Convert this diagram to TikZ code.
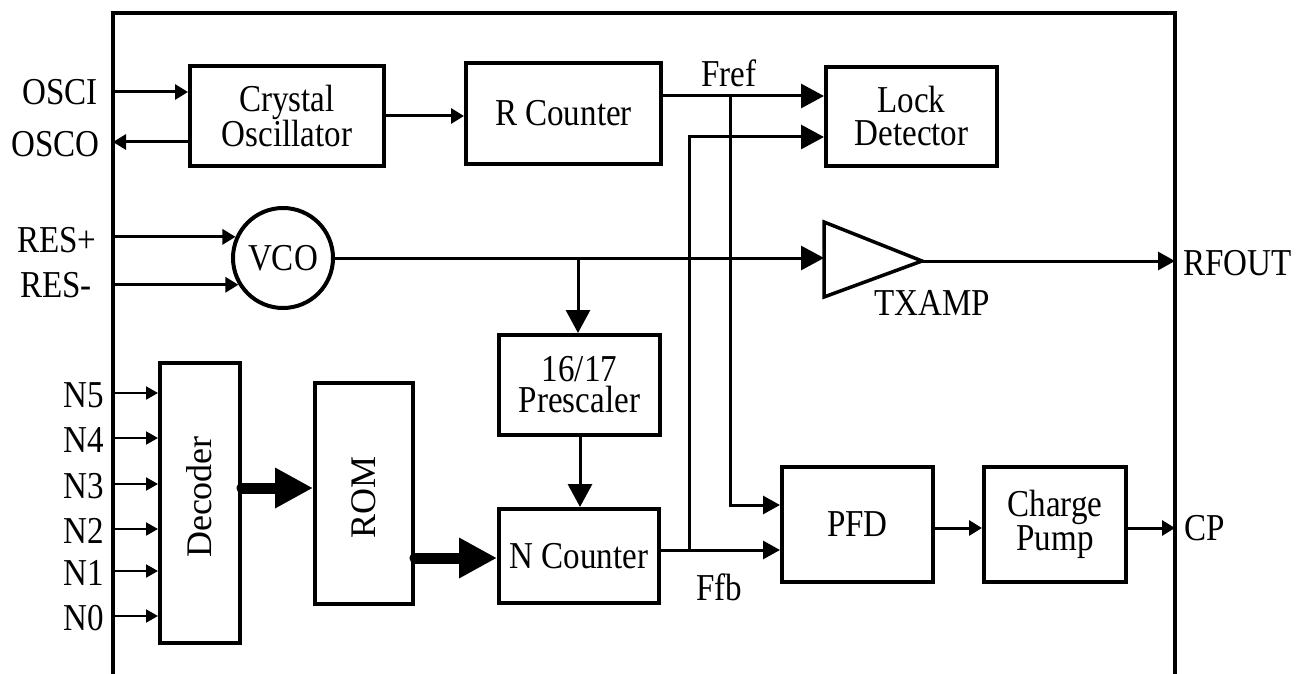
\documentclass[tikz,border=0pt]{standalone}
\usepackage{fontspec}
\setmainfont{Liberation Serif}[FakeStretch=0.87]
\newfontfamily\rotfont{Liberation Serif}
\usetikzlibrary{arrows.meta}
\begin{document}
\begin{tikzpicture}[x=1pt,y=-1pt,
  every node/.style={font=\fontsize{38}{33}\selectfont, inner sep=0pt},
  blk/.style={draw, line width=4pt, align=center},
  conn/.style={line width=3pt},
  bigtip/.style={conn, -{Triangle[length=23pt,width=24pt]}},
  midtip/.style={conn, -{Triangle[length=17pt,width=18pt]}},
  smalltip/.style={conn, -{Triangle[length=13pt,width=15pt]}},
  ntip/.style={line width=2pt, -{Triangle[length=12pt,width=13pt]}},
  fat/.style={line width=11pt, line cap=round, -{Triangle[length=38pt,width=38pt]}}
]
\useasboundingbox (0,0) rectangle (1299,674);
% frame
\draw[line width=4pt] (113,674) -- (113,13) -- (1175,13) -- (1175,674);
\coordinate (fl) at (113,0);
\coordinate (fr) at (1175,0);

% blocks
\node[blk, minimum width=194, minimum height=100] (xo) at (287,116) {Crystal\\Oscillator};
\node[blk, minimum width=195, minimum height=101] (rc) at (563.5,113.5) {R Counter};
\node[blk, minimum width=171, minimum height=99] (ld) at (911.5,116.5) {Lock\\Detector};
\node[draw, circle, line width=4pt, minimum size=100] (vco) at (283,258) {VCO};
\node[blk, minimum width=161, minimum height=100, font=\fontsize{38}{31}\selectfont] (pre) at (579.5,385) {16/17\\Prescaler};
\node[blk, minimum width=160, minimum height=94] (nc) at (579,556) {N Counter};
\node[blk, minimum width=151, minimum height=115] (pfd) at (857.5,524.5) {PFD};
\node[blk, minimum width=142, minimum height=115] (cpb) at (1055,524.5) {Charge\\Pump};
\node[blk, minimum width=80, minimum height=280] (dec) at (200,503) {};
\node[rotate=90, font=\rotfont\fontsize{36}{33}\selectfont] (dect) at (199,497) {Decoder};
\node[blk, minimum width=98, minimum height=221] (rom) at (364,493.5) {};
\node[rotate=90, font=\rotfont\fontsize{36}{33}\selectfont] (romt) at (364,497) {ROM};

% TX amplifier
\coordinate (ampin) at (824,258);
\coordinate (ampout) at (922,261);
\draw[line width=3.5pt, line join=miter] (824,222) -- (ampout) -- (824,297) -- cycle;
\node (txl) at (932,303) {TXAMP};

% pin labels
\node[anchor=east] (osci) at (98,92) {OSCI};
\node[anchor=east] (osco) at (100,144) {OSCO};
\node[anchor=west] (resp) at (17,240) {RES+};
\node[anchor=west] (resm) at (20,285) {RES-};
\node[anchor=west] (rfout) at (1183,263) {RFOUT};
\node[anchor=west] (cpl) at (1184,528) {CP};
\node (frefl) at (729,73) {Fref};
\node (ffbl) at (719,587) {Ffb};
\foreach \n/\y in {5/393,4/438,3/484,2/529,1/571,0/616}{
  \node[anchor=east] (n\n) at (104,\y+2) {N\n};
  \draw[ntip] (fl |- 0,\y) -- (dec.west |- 0,\y);
}

% connections
\draw[smalltip] (fl |- 0,92) -- (xo.west |- 0,92);
\draw[smalltip] (xo.west |- 0,142) -- (fl |- 0,142);
\draw[smalltip] (xo.east) -- (rc.west |- xo.east);
\draw[smalltip] (fl |- vco.156.4) -- (vco.156.4);
\draw[smalltip] (fl |- vco.211.3) -- (vco.211.3);
\coordinate (frj) at (730,96);
\draw[bigtip] (rc.east |- frj) -- (ld.west |- frj);
\draw[midtip] (frj) |- (pfd.west |- 0,505);
\coordinate (fbj) at (689,550);
\draw[midtip] (nc.east |- fbj) -- (pfd.west |- fbj);
\draw[bigtip] (fbj) |- (ld.west |- 0,137);
\draw[bigtip] (vco.east) -- (ampin);
\coordinate (brj) at (578,258);
\draw[bigtip] (brj) -- (brj |- pre.north);
\draw[bigtip] (pre.south -| 580,0) -- (nc.north -| 580,0);
\draw[midtip] (ampout) -- (fr |- ampout);
\draw[smalltip] (pfd.east |- 0,528) -- (cpb.west |- 0,528);
\draw[smalltip] (cpb.east |- 0,528) -- (fr |- 0,528);
\draw[fat] (dec.east |- 0,488) -- (rom.west |- 0,488);
\draw[fat] (rom.east |- 0,558) -- (nc.west |- 0,558);
\end{tikzpicture}
\end{document}
